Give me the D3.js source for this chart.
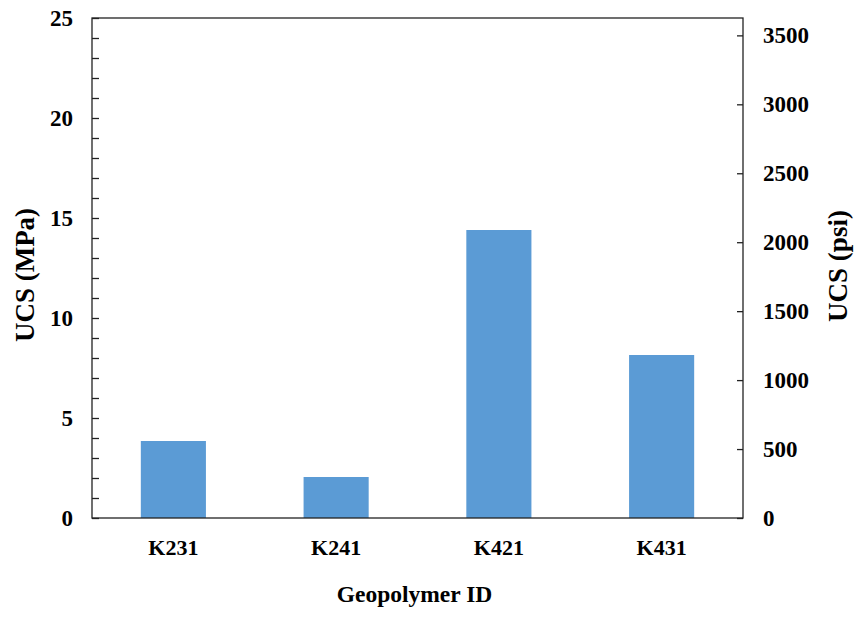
<!DOCTYPE html>
<html>
<head>
<meta charset="utf-8">
<script src="https://cdn.jsdelivr.net/npm/d3@7"></script>
<style>
  body { margin: 0; background: #fff; }
  svg { display: block; }
  text { font-family: "Liberation Serif", "Times New Roman", serif; font-weight: bold; fill: #000; }
</style>
</head>
<body>
<div id="chart"></div>
<script>
const categories = ["K231", "K241", "K421", "K431"];
const ucsMPa = [3.85, 2.05, 14.4, 8.15];
const leftTicks = [0, 5, 10, 15, 20, 25];
const rightTicks = [0, 500, 1000, 1500, 2000, 2500, 3000, 3500];
const MPA_TO_PSI = 145.038;

const W = 854, H = 618;
const m = { left: 92, right: 111, top: 18, bottom: 100 };
const pw = W - m.left - m.right, ph = H - m.top - m.bottom;

const svg = d3.select("#chart").append("svg").attr("width", W).attr("height", H);
const g = svg.append("g").attr("transform", `translate(${m.left},${m.top})`);

const x = d3.scaleBand().domain(categories).range([0, pw]).paddingInner(0.6).paddingOuter(0.3);
const y = d3.scaleLinear().domain([0, 25]).range([ph, 0]);
const y2 = d3.scaleLinear().domain([0, 25 * MPA_TO_PSI]).range([ph, 0]);

// bars
g.selectAll("rect.bar").data(ucsMPa).join("rect")
  .attr("class", "bar")
  .attr("x", (d, i) => x(categories[i]))
  .attr("width", x.bandwidth())
  .attr("y", d => y(d))
  .attr("height", d => ph - y(d))
  .attr("fill", "#5B9BD5");

// frame
g.append("rect").attr("x", 0).attr("y", 0).attr("width", pw).attr("height", ph)
  .attr("fill", "none").attr("stroke", "#222").attr("stroke-width", 1.3);

// left axis (ticks inside)
const minor = d3.range(0, 26, 1);
const la = g.append("g").call(d3.axisLeft(y).tickValues(minor).tickSize(-7).tickFormat(""));
la.select(".domain").remove();
la.selectAll("line").attr("stroke", "#222").attr("stroke-width", 1.3);
g.selectAll("text.lt").data(leftTicks).join("text").attr("class", "lt")
  .attr("x", -19).attr("y", d => y(d)).attr("dy", "0.35em")
  .attr("text-anchor", "end").attr("font-size", 23).text(d => d);

// right axis
const ra = g.append("g").attr("transform", `translate(${pw},0)`)
  .call(d3.axisRight(y2).tickValues(rightTicks).tickSize(-6).tickFormat(""));
ra.select(".domain").remove();
ra.selectAll("line").attr("stroke", "#222").attr("stroke-width", 1.3);
g.selectAll("text.rt").data(rightTicks).join("text").attr("class", "rt")
  .attr("x", pw + 20).attr("y", d => y2(d)).attr("dy", "0.35em")
  .attr("text-anchor", "start").attr("font-size", 23).text(d => d);

// x category labels
g.selectAll("text.cat").data(categories).join("text").attr("class", "cat")
  .attr("x", d => x(d) + x.bandwidth() / 2).attr("y", ph + 37)
  .attr("text-anchor", "middle").attr("font-size", 22).text(d => d);

// titles
svg.append("text").attr("x", m.left + pw / 2 - 3).attr("y", 602)
  .attr("text-anchor", "middle").attr("font-size", 23.5).text("Geopolymer ID");
svg.append("text").attr("transform", `translate(34,275) rotate(-90)`)
  .attr("text-anchor", "middle").attr("font-size", 27).text("UCS (MPa)");
svg.append("text").attr("transform", `translate(847,266) rotate(-90)`)
  .attr("text-anchor", "middle").attr("font-size", 27).text("UCS (psi)");
</script>
</body>
</html>
